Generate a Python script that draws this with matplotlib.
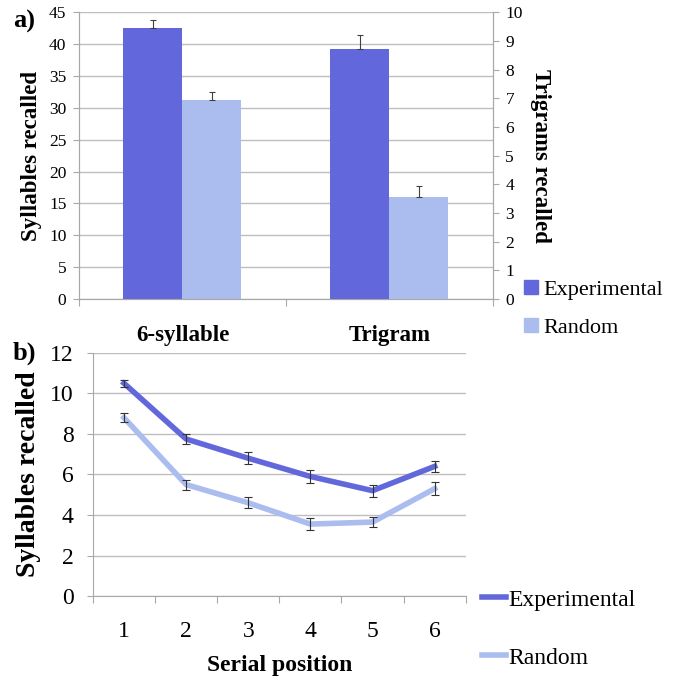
import matplotlib
matplotlib.use("Agg")
import matplotlib.pyplot as plt
import numpy as np
from matplotlib.lines import Line2D
from matplotlib.patches import Patch

plt.rcParams['font.family'] = 'serif'
plt.rcParams['font.serif'] = ['Liberation Serif', 'TeX Gyre Termes', 'FreeSerif', 'DejaVu Serif']

# ---- data ----
bar_categories = ["6-syllable", "Trigram"]
series_names = ["Experimental", "Random"]
syll_exp, syll_exp_err = 42.5, 1.2
syll_rand, syll_rand_err = 31.2, 1.2
tri_exp, tri_exp_err = 8.7, 0.5
tri_rand, tri_rand_err = 3.55, 0.4

positions = [1, 2, 3, 4, 5, 6]
exp_vals = [10.5, 7.75, 6.8, 5.9, 5.2, 6.4]
exp_err = [0.17, 0.26, 0.3, 0.33, 0.3, 0.28]
rand_vals = [8.8, 5.5, 4.6, 3.55, 3.65, 5.3]
rand_err = [0.22, 0.25, 0.28, 0.28, 0.26, 0.32]

c_exp = "#6268DB"
c_rand = "#ABBDEF"
grid_c = "#BEBEBE"
spine_c = "#A8A8A8"

fig = plt.figure(figsize=(6.78, 6.76), dpi=100)

# ---- panel a ----
ax = fig.add_axes([0.1165, 0.5577, 0.727 - 0.1165, 0.982 - 0.5577])
ax2 = ax.twinx()
w = 0.285
ax.bar(0 - w / 2, syll_exp, w, color=c_exp, zorder=3)
ax.bar(0 + w / 2, syll_rand, w, color=c_rand, zorder=3)
ax.errorbar([0 - w / 2], [syll_exp], yerr=[[0], [syll_exp_err]], fmt='none',
            ecolor='#404040', elinewidth=0.8, capsize=2.5, capthick=0.8, zorder=4)
ax.errorbar([0 + w / 2], [syll_rand], yerr=[[0], [syll_rand_err]], fmt='none',
            ecolor='#404040', elinewidth=0.8, capsize=2.5, capthick=0.8, zorder=4)
ax2.bar(1 - w / 2, tri_exp, w, color=c_exp, zorder=3)
ax2.bar(1 + w / 2, tri_rand, w, color=c_rand, zorder=3)
ax2.errorbar([1 - w / 2], [tri_exp], yerr=[[0], [tri_exp_err]], fmt='none',
             ecolor='#404040', elinewidth=0.8, capsize=2.5, capthick=0.8, zorder=4)
ax2.errorbar([1 + w / 2], [tri_rand], yerr=[[0], [tri_rand_err]], fmt='none',
             ecolor='#404040', elinewidth=0.8, capsize=2.5, capthick=0.8, zorder=4)

ax.set_xlim(-0.5, 1.5)
ax.set_ylim(0, 45)
ax.set_yticks(np.arange(0, 46, 5))
ax2.set_ylim(0, 10)
ax2.set_yticks(np.arange(0, 11, 1))
ax.yaxis.grid(True, color=grid_c, linewidth=1.0, zorder=0)
ax.set_axisbelow(True)
ax.set_xticks([-0.5, 0.5, 1.5])
ax.set_xticklabels([])
ax.set_xticks([0, 1], minor=True)
ax.set_xticklabels(bar_categories, minor=True, fontsize=16.5, fontweight='bold')
ax.tick_params(axis='x', which='minor', length=0, pad=19)
ax.tick_params(axis='x', which='major', length=5, color=spine_c, direction='out')
ax.tick_params(axis='y', length=4, color=spine_c, labelsize=12.5, pad=5)
ax2.tick_params(axis='y', length=4, color=spine_c, labelsize=12.5, pad=5)
for a in (ax, ax2):
    a.spines['top'].set_visible(False)
    for s in ('left', 'right', 'bottom'):
        a.spines[s].set_color(spine_c)
ax.set_ylabel("Syllables recalled", fontsize=16.5, fontweight='bold', labelpad=5)
ax2.set_ylabel("Trigrams recalled", fontsize=16.5, fontweight='bold', rotation=-90, labelpad=20)
fig.text(0.019, 0.968, "a)", fontsize=19, fontweight='bold', va='center')

handles_a = [Patch(color=c_exp), Patch(color=c_rand)]
fig.legend(handles_a, series_names, loc='upper left', bbox_to_anchor=(0.744, 0.615), frameon=False,
           fontsize=16, handlelength=0.6, handleheight=0.6, handletextpad=0.25, labelspacing=0.8)

# ---- panel b ----
bx = fig.add_axes([0.137, 0.1183, 0.687 - 0.137, 0.478 - 0.1183])
bx.plot(positions, exp_vals, color=c_exp, linewidth=4, zorder=3, solid_joinstyle='round')
bx.plot(positions, rand_vals, color=c_rand, linewidth=4, zorder=3, solid_joinstyle='round')
bx.errorbar(positions, exp_vals, yerr=exp_err, fmt='none', ecolor='#333333',
            elinewidth=0.8, capsize=3, capthick=0.8, zorder=4)
bx.errorbar(positions, rand_vals, yerr=rand_err, fmt='none', ecolor='#333333',
            elinewidth=0.8, capsize=3, capthick=0.8, zorder=4)
bx.set_xlim(0.5, 6.5)
bx.set_ylim(0, 12)
bx.set_yticks(np.arange(0, 13, 2))
bx.yaxis.grid(True, color=grid_c, linewidth=1.0, zorder=0)
bx.set_axisbelow(True)
bx.set_xticks(np.arange(0.5, 6.6, 1.0))
bx.set_xticklabels([])
bx.set_xticks(positions, minor=True)
bx.set_xticklabels([str(p) for p in positions], minor=True, fontsize=17)
bx.tick_params(axis='x', which='minor', length=0, pad=18)
bx.tick_params(axis='x', which='major', length=5, color=spine_c, direction='out')
bx.tick_params(axis='y', length=4, color=spine_c, labelsize=17, pad=10)
for s in ('top', 'right'):
    bx.spines[s].set_visible(False)
for s in ('left', 'bottom'):
    bx.spines[s].set_color(spine_c)
bx.set_ylabel("Syllables recalled", fontsize=20, fontweight='bold', labelpad=6)
bx.set_xlabel("Serial position", fontsize=17, fontweight='bold', labelpad=9)
fig.text(0.019, 0.478, "b)", fontsize=19, fontweight='bold', va='center')

handles_b = [Line2D([0], [0], color=c_exp, linewidth=4), Line2D([0], [0], color=c_rand, linewidth=4)]
fig.legend(handles_b, series_names, loc='upper left', bbox_to_anchor=(0.68, 0.16), frameon=False,
           fontsize=17, handlelength=1.0, handletextpad=0.1, labelspacing=1.55)

fig.savefig("out.png", dpi=100)
